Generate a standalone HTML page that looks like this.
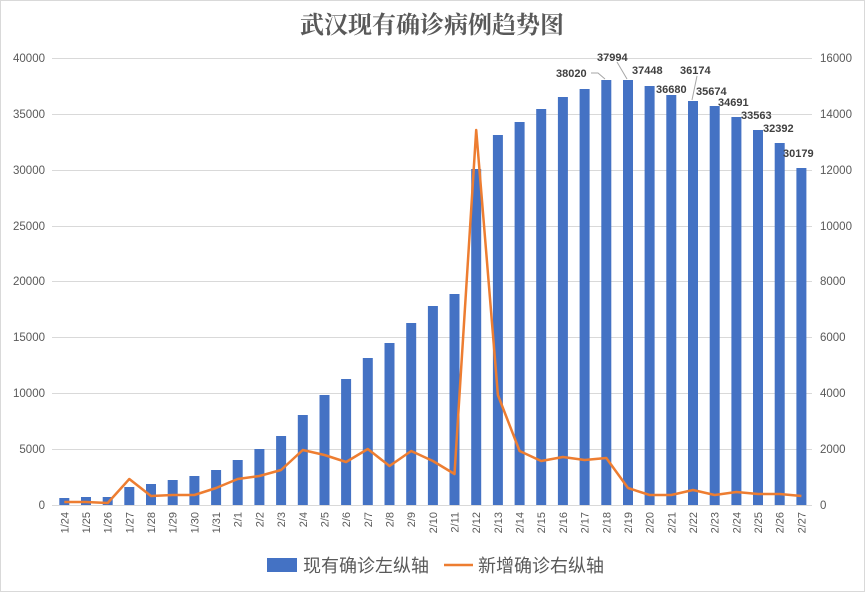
<!DOCTYPE html>
<html><head><meta charset="utf-8"><style>
body{margin:0;background:#fff}
svg{display:block;font-family:"Liberation Sans","Noto Sans CJK SC",sans-serif}
</style></head><body>
<svg width="865" height="592" viewBox="0 0 865 592">
<rect x="0.5" y="0.5" width="864" height="591" fill="#fff" stroke="#d9d9d9"/>
<text x="432" y="33" text-anchor="middle" font-size="24" font-weight="bold" fill="#595959" style="font-family:'Liberation Serif','Noto Serif CJK SC',serif">武汉现有确诊病例趋势图</text>
<g stroke="#d9d9d9" stroke-width="1">
<line x1="52" y1="58.5" x2="812" y2="58.5"/><line x1="52" y1="114.5" x2="812" y2="114.5"/>
<line x1="52" y1="170.5" x2="812" y2="170.5"/><line x1="52" y1="226.5" x2="812" y2="226.5"/>
<line x1="52" y1="281.5" x2="812" y2="281.5"/><line x1="52" y1="337.5" x2="812" y2="337.5"/>
<line x1="52" y1="393.5" x2="812" y2="393.5"/><line x1="52" y1="449.5" x2="812" y2="449.5"/>
<line x1="52" y1="505.5" x2="812" y2="505.5"/>
</g>
<g font-size="11.5" fill="#595959" text-anchor="end">
<text x="45" y="62">40000</text><text x="45" y="118">35000</text><text x="45" y="174">30000</text>
<text x="45" y="230">25000</text><text x="45" y="285">20000</text><text x="45" y="341">15000</text>
<text x="45" y="397">10000</text><text x="45" y="453">5000</text><text x="45" y="509">0</text>
</g>
<g font-size="11.5" fill="#595959">
<text x="820" y="62">16000</text><text x="820" y="118">14000</text><text x="820" y="174">12000</text>
<text x="820" y="230">10000</text><text x="820" y="285">8000</text><text x="820" y="341">6000</text>
<text x="820" y="397">4000</text><text x="820" y="453">2000</text><text x="820" y="509">0</text>
</g>
<g fill="#4472c4">
<rect x="59.3" y="498" width="10" height="7"/><rect x="81" y="497" width="10" height="8"/>
<rect x="102.7" y="497" width="10" height="8"/><rect x="124.3" y="487" width="10" height="18"/>
<rect x="146" y="484" width="10" height="21"/><rect x="167.7" y="480" width="10" height="25"/>
<rect x="189.4" y="476" width="10" height="29"/><rect x="211.1" y="470" width="10" height="35"/>
<rect x="232.7" y="460" width="10" height="45"/><rect x="254.4" y="449" width="10" height="56"/>
<rect x="276.1" y="436" width="10" height="69"/><rect x="297.8" y="415" width="10" height="90"/>
<rect x="319.5" y="395" width="10" height="110"/><rect x="341.1" y="379" width="10" height="126"/>
<rect x="362.8" y="358" width="10" height="147"/><rect x="384.5" y="343" width="10" height="162"/>
<rect x="406.2" y="323" width="10" height="182"/><rect x="427.9" y="306" width="10" height="199"/>
<rect x="449.5" y="294" width="10" height="211"/><rect x="471.2" y="169" width="10" height="336"/>
<rect x="492.9" y="135" width="10" height="370"/><rect x="514.6" y="122" width="10" height="383"/>
<rect x="536.2" y="109" width="10" height="396"/><rect x="557.9" y="97" width="10" height="408"/>
<rect x="579.6" y="89" width="10" height="416"/><rect x="601.3" y="80" width="10" height="425"/>
<rect x="623" y="80" width="10" height="425"/><rect x="644.6" y="86" width="10" height="419"/>
<rect x="666.3" y="95" width="10" height="410"/><rect x="688" y="101" width="10" height="404"/>
<rect x="709.7" y="106" width="10" height="399"/><rect x="731.4" y="117" width="10" height="388"/>
<rect x="753" y="130" width="10" height="375"/><rect x="774.7" y="143" width="10" height="362"/>
<rect x="796.4" y="168" width="10" height="337"/>
</g>
<polyline fill="none" stroke="#ed7d31" stroke-width="2.5" stroke-linejoin="round" points="64.3,502 86,502 107.7,503 129.3,479 151,496 172.7,495 194.4,495 216.1,488 237.7,479 259.4,476 281.1,470 302.8,450 324.5,455 346.1,462 367.8,449 389.5,466 411.2,451 432.9,461 454.5,474 476.2,130 497.9,395 519.6,451 541.2,461 562.9,457 584.6,460 606.3,458 628,488 649.6,495 671.3,495 693,490 714.7,495 736.4,492 758,494 779.7,494 801.4,496"/>
<g stroke="#a6a6a6" fill="none" stroke-width="1">
<polyline points="591,73 598,73 605,79"/><line x1="617" y1="62" x2="627" y2="79"/><line x1="697" y1="76" x2="692" y2="100"/>
</g>
<g font-size="11" font-weight="bold" fill="#404040">
<text x="556" y="77">38020</text><text x="597" y="61">37994</text><text x="632" y="74">37448</text>
<text x="656" y="93">36680</text><text x="680" y="74">36174</text><text x="696" y="95">35674</text>
<text x="718" y="106">34691</text><text x="741" y="119">33563</text><text x="763" y="132">32392</text>
<text x="783" y="157">30179</text>
</g>
<g font-size="11" fill="#595959" text-anchor="end">
<text transform="translate(68.3,512) rotate(-90)">1/24</text><text transform="translate(90,512) rotate(-90)">1/25</text>
<text transform="translate(111.7,512) rotate(-90)">1/26</text><text transform="translate(133.3,512) rotate(-90)">1/27</text>
<text transform="translate(155,512) rotate(-90)">1/28</text><text transform="translate(176.7,512) rotate(-90)">1/29</text>
<text transform="translate(198.4,512) rotate(-90)">1/30</text><text transform="translate(220.1,512) rotate(-90)">1/31</text>
<text transform="translate(241.7,512) rotate(-90)">2/1</text><text transform="translate(263.4,512) rotate(-90)">2/2</text>
<text transform="translate(285.1,512) rotate(-90)">2/3</text><text transform="translate(306.8,512) rotate(-90)">2/4</text>
<text transform="translate(328.5,512) rotate(-90)">2/5</text><text transform="translate(350.1,512) rotate(-90)">2/6</text>
<text transform="translate(371.8,512) rotate(-90)">2/7</text><text transform="translate(393.5,512) rotate(-90)">2/8</text>
<text transform="translate(415.2,512) rotate(-90)">2/9</text><text transform="translate(436.9,512) rotate(-90)">2/10</text>
<text transform="translate(458.5,512) rotate(-90)">2/11</text><text transform="translate(480.2,512) rotate(-90)">2/12</text>
<text transform="translate(501.9,512) rotate(-90)">2/13</text><text transform="translate(523.6,512) rotate(-90)">2/14</text>
<text transform="translate(545.2,512) rotate(-90)">2/15</text><text transform="translate(566.9,512) rotate(-90)">2/16</text>
<text transform="translate(588.6,512) rotate(-90)">2/17</text><text transform="translate(610.3,512) rotate(-90)">2/18</text>
<text transform="translate(632,512) rotate(-90)">2/19</text><text transform="translate(653.6,512) rotate(-90)">2/20</text>
<text transform="translate(675.3,512) rotate(-90)">2/21</text><text transform="translate(697,512) rotate(-90)">2/22</text>
<text transform="translate(718.7,512) rotate(-90)">2/23</text><text transform="translate(740.4,512) rotate(-90)">2/24</text>
<text transform="translate(762,512) rotate(-90)">2/25</text><text transform="translate(783.7,512) rotate(-90)">2/26</text>
<text transform="translate(805.4,512) rotate(-90)">2/27</text>
</g>
<rect x="267" y="558" width="30" height="14" fill="#4472c4"/>
<text x="303" y="572" font-size="18" fill="#595959">现有确诊左纵轴</text>
<line x1="444" y1="565" x2="473" y2="565" stroke="#ed7d31" stroke-width="2.5"/>
<text x="478" y="572" font-size="18" fill="#595959">新增确诊右纵轴</text>
</svg>
</body></html>
